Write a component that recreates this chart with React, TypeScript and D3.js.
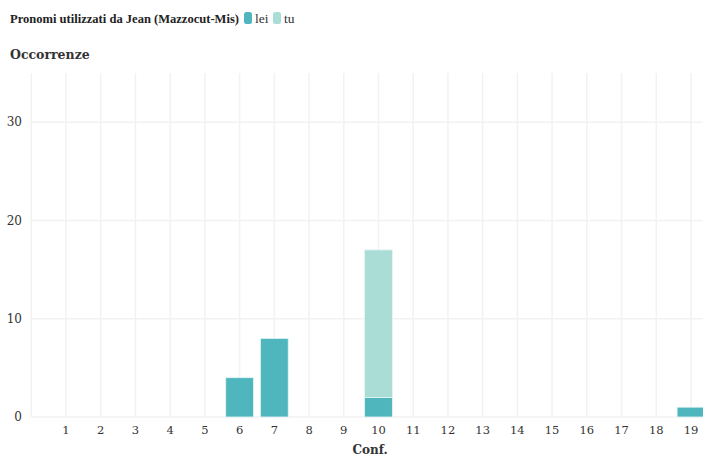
import React from "react";
import * as d3 from "d3";

const categories = [1,2,3,4,5,6,7,8,9,10,11,12,13,14,15,16,17,18,19];
const leiValues = [0,0,0,0,0,4,8,0,0,2,0,0,0,0,0,0,0,0,1];
const tuValues = [0,0,0,0,0,0,0,0,0,15,0,0,0,0,0,0,0,0,0];
const yTicks = [0,10,20,30];
const seriesNames = ["lei","tu"];
const seriesColors = ["#50b6be","#a9ddd6"];

const W = 703, H = 457;
const FONT = "'DejaVu Serif', serif";
const FONT2 = "'Liberation Serif', serif";

export default function App() {
  const x = d3.scaleLinear().domain([0, 20]).range([31.3, 725.7]);
  const y = d3.scaleLinear().domain([0, 35]).range([417, 73]);
  const bw = (x(1) - x(0)) * 0.8;
  const stacked = categories.map((c, i) => ({ c, lei: leiValues[i], tu: tuValues[i] }));
  const stack = d3.stack<any>().keys(seriesNames)(stacked);
  const gridX = d3.range(0, 21);
  return (
    <div style={{ position: "absolute", left: 0, top: 0 }}>
      <svg width={W} height={H} style={{ display: "block", background: "#fff" }}>
        <g>
          {gridX.map(v => (
            <line key={"gx" + v} x1={x(v)} x2={x(v)} y1={73} y2={417} stroke="#f2f2f2" strokeWidth={1.5} />
          ))}
          {yTicks.map(v => (
            <line key={"gy" + v} x1={31.3} x2={W} y1={y(v)} y2={y(v)} stroke="#f2f2f2" strokeWidth={1.5} />
          ))}
        </g>
        {stack.map((s, si) => (
          <g key={s.key} fill={seriesColors[si]}>
            {s.map((d, i) => d[1] - d[0] > 0 ? (
              <rect key={i} x={x(categories[i]) - bw / 2} width={bw} y={y(d[1])} height={y(d[0]) - y(d[1])}
                stroke="#e6f5f4" strokeWidth={0.8} />
            ) : null)}
          </g>
        ))}
        {yTicks.map(v => (
          <text key={"yt" + v} x={22} y={y(v)} dy="0.35em" textAnchor="end" fontFamily={FONT} fontSize={12} fill="#333">{v}</text>
        ))}
        {categories.map(c => (
          <text key={"xt" + c} x={x(c)} y={434} textAnchor="middle" fontFamily={FONT} fontSize={11.5} fill="#333">{c}</text>
        ))}
        <text x={370} y={454} textAnchor="middle" fontFamily={FONT} fontSize={12} fontWeight="bold" fill="#333">Conf.</text>
        <text x={10} y={23} fontFamily={FONT2} fontSize={13.5} fontWeight="bold" fill="#222" textLength={229} lengthAdjust="spacingAndGlyphs">Pronomi utilizzati da Jean (Mazzocut-Mis)</text>
        <rect x={244} y={12} width={8} height={12} rx={2.5} fill={seriesColors[0]} />
        <text x={255} y={23} fontFamily={FONT2} fontSize={13.5} fill="#333">{seriesNames[0]}</text>
        <rect x={273} y={12} width={8} height={12} rx={2.5} fill={seriesColors[1]} />
        <text x={284} y={23} fontFamily={FONT2} fontSize={13.5} fill="#333">{seriesNames[1]}</text>
        <text x={10} y={59} fontFamily={FONT} fontSize={12.5} fontWeight="bold" fill="#333">Occorrenze</text>
      </svg>
    </div>
  );
}
